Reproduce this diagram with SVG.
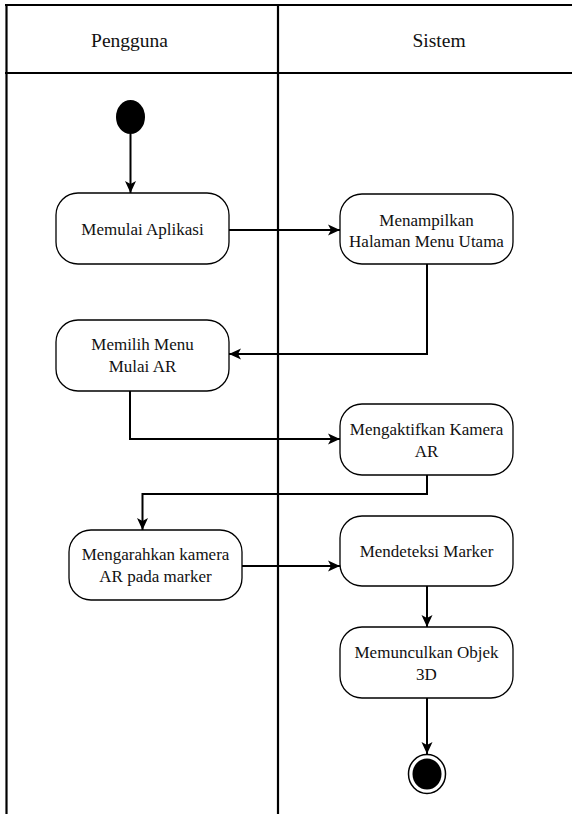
<svg xmlns="http://www.w3.org/2000/svg" width="572" height="814" viewBox="0 0 572 814">
  <style>
    .lane { stroke: #000; stroke-width: 2.2; fill: none; }
    .hdr { font-family: 'Liberation Serif', Tinos, 'Times New Roman', serif; font-size: 19.5px; fill: #111; text-anchor: middle; }
    .act rect { fill: #fff; stroke: #000; stroke-width: 1.3; }
    .act text { font-family: 'Liberation Serif', Tinos, 'Times New Roman', serif; font-size: 17px; fill: #111; text-anchor: middle; }
    .flow { stroke: #000; stroke-width: 2; fill: none; marker-end: url(#arrow); }
  </style>
  <defs>
    <marker id="arrow" markerUnits="userSpaceOnUse" markerWidth="14" markerHeight="14" viewBox="0 0 14 14" refX="13" refY="7" orient="auto">
      <path d="M1,1.5 L13,7 L1,12.5 L4,7 Z" fill="#000"/>
    </marker>
  </defs>
  <rect width="572" height="814" fill="#fff"/>

  <!-- swimlanes -->
  <g id="swimlanes">
    <line class="lane" x1="5" y1="5" x2="572" y2="5"/>
    <line class="lane" x1="5" y1="73" x2="572" y2="73"/>
    <line class="lane" x1="6.5" y1="4" x2="6.5" y2="814"/>
    <line class="lane" x1="278" y1="4" x2="278" y2="814"/>
    <text class="hdr" x="129.5" y="47">Pengguna</text>
    <text class="hdr" x="439" y="47">Sistem</text>
  </g>

  <!-- connectors -->
  <g id="connectors">
    <path class="flow" d="M130.5,134 V193"/>
    <path class="flow" d="M229,230 H340"/>
    <path class="flow" d="M427,264 V354 H229"/>
    <path class="flow" d="M130,391 V439 H340"/>
    <path class="flow" d="M427,475 V494 H142.5 V530"/>
    <path class="flow" d="M242,566 H340"/>
    <path class="flow" d="M427,586 V627"/>
    <path class="flow" d="M427,698 V754"/>
  </g>

  <!-- start -->
  <g id="start">
    <ellipse cx="130.5" cy="117" rx="14.5" ry="17" fill="#000"/>
  </g>

  <g id="memulai-aplikasi" class="act">
    <rect x="56" y="193" width="173" height="71" rx="22" ry="22"/>
    <text x="142.5" y="234.5">Memulai Aplikasi</text>
  </g>

  <g id="menampilkan-menu" class="act">
    <rect x="340" y="194" width="173" height="70" rx="22" ry="22"/>
    <text x="426.5" y="226">Menampilkan</text>
    <text x="426.5" y="246.5">Halaman Menu Utama</text>
  </g>

  <g id="memilih-menu" class="act">
    <rect x="56" y="320" width="173" height="71" rx="22" ry="22"/>
    <text x="142.5" y="350">Memilih Menu</text>
    <text x="142.5" y="371.5">Mulai AR</text>
  </g>

  <g id="mengaktifkan-kamera" class="act">
    <rect x="340" y="404" width="173" height="71" rx="22" ry="22"/>
    <text x="426.5" y="435">Mengaktifkan Kamera</text>
    <text x="426.5" y="456.5">AR</text>
  </g>

  <g id="mengarahkan-kamera" class="act">
    <rect x="69" y="530" width="173" height="70" rx="22" ry="22"/>
    <text x="155.5" y="560">Mengarahkan kamera</text>
    <text x="155.5" y="581.5">AR pada marker</text>
  </g>

  <g id="mendeteksi-marker" class="act">
    <rect x="340" y="516" width="173" height="70" rx="22" ry="22"/>
    <text x="426.5" y="557">Mendeteksi Marker</text>
  </g>

  <g id="memunculkan-objek" class="act">
    <rect x="340" y="627" width="173" height="71" rx="22" ry="22"/>
    <text x="426.5" y="658">Memunculkan Objek</text>
    <text x="426.5" y="679.5">3D</text>
  </g>

  <!-- end -->
  <g id="end">
    <ellipse cx="427" cy="774" rx="18.5" ry="19.5" fill="#fff" stroke="#000" stroke-width="1.5"/>
    <ellipse cx="427" cy="774" rx="14.5" ry="15.5" fill="#000"/>
  </g>
</svg>
